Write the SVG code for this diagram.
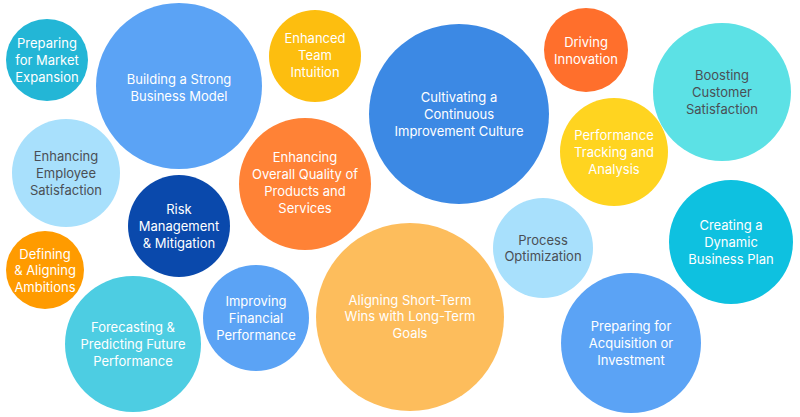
<svg xmlns="http://www.w3.org/2000/svg" width="800" height="417" viewBox="0 0 800 417">
<style>
text{font-family:Inter,"Noto Sans","Liberation Sans",sans-serif;font-size:13px;text-anchor:middle;dominant-baseline:central;fill:#ffffff}
text.d{fill:#4a4f55}
</style>
<rect width="800" height="417" fill="#ffffff"/>
<g id="n1"><circle cx="47" cy="60" r="41" fill="#23B6D6"/><text x="47" y="43">Preparing</text><text x="47" y="60">for Market</text><text x="47" y="77">Expansion</text></g>
<g id="n2"><circle cx="179" cy="86" r="83" fill="#5BA3F5"/><text x="179" y="79">Building a Strong</text><text x="179" y="96">Business Model</text></g>
<g id="n3"><circle cx="315" cy="56" r="46" fill="#FDBE0F"/><text x="315" y="38">Enhanced</text><text x="315" y="55">Team</text><text x="315" y="72">Intuition</text></g>
<g id="n4"><circle cx="459" cy="114" r="90" fill="#3C89E4"/><text x="459" y="97">Cultivating a</text><text x="459" y="114">Continuous</text><text x="459" y="131">Improvement Culture</text></g>
<g id="n5"><circle cx="305" cy="184" r="66" fill="#FF8236"/><text x="305" y="157">Enhancing</text><text x="305" y="174">Overall Quality of</text><text x="305" y="191">Products and</text><text x="305" y="208">Services</text></g>
<g id="n6"><circle cx="66" cy="173" r="54" fill="#A8E0FC"/><text class="d" x="66" y="156">Enhancing</text><text class="d" x="66" y="173">Employee</text><text class="d" x="66" y="190">Satisfaction</text></g>
<g id="n7"><circle cx="179" cy="226" r="51" fill="#0A49AC"/><text x="179" y="209">Risk</text><text x="179" y="226">Management</text><text x="179" y="243">&amp; Mitigation</text></g>
<g id="n8"><circle cx="45" cy="270" r="39" fill="#FF9B00"/><text x="45" y="254">Defining</text><text x="45" y="270">&amp; Aligning</text><text x="45" y="287">Ambitions</text></g>
<g id="n9"><circle cx="133" cy="344" r="68" fill="#4DCDE2"/><text x="133" y="327">Forecasting &amp;</text><text x="133" y="344">Predicting Future</text><text x="133" y="361">Performance</text></g>
<g id="n10"><circle cx="256" cy="318" r="53" fill="#5BA3F5"/><text x="256" y="301">Improving</text><text x="256" y="318">Financial</text><text x="256" y="335">Performance</text></g>
<g id="n11"><circle cx="410" cy="317" r="94" fill="#FDBD5C"/><text x="410" y="300">Aligning Short-Term</text><text x="410" y="316">Wins with Long-Term</text><text x="410" y="333">Goals</text></g>
<g id="n12"><circle cx="543" cy="248" r="50" fill="#A8E0FC"/><text class="d" x="543" y="240">Process</text><text class="d" x="543" y="256">Optimization</text></g>
<g id="n13"><circle cx="631" cy="343" r="70" fill="#5BA3F5"/><text x="631" y="326">Preparing for</text><text x="631" y="343">Acquisition or</text><text x="631" y="360">Investment</text></g>
<g id="n14"><circle cx="586" cy="50" r="42" fill="#FF6F2C"/><text x="586" y="42">Driving</text><text x="586" y="59">Innovation</text></g>
<g id="n15"><circle cx="614" cy="152" r="54" fill="#FFD420"/><text x="614" y="135">Performance</text><text x="614" y="152">Tracking and</text><text x="614" y="169">Analysis</text></g>
<g id="n16"><circle cx="722" cy="92" r="69" fill="#5CE1E5"/><text class="d" x="722" y="75">Boosting</text><text class="d" x="722" y="92">Customer</text><text class="d" x="722" y="109">Satisfaction</text></g>
<g id="n17"><circle cx="731" cy="242" r="62" fill="#0EC1E0"/><text x="731" y="225">Creating a</text><text x="731" y="242">Dynamic</text><text x="731" y="259">Business Plan</text></g>
<g id="connectors"/>
</svg>
